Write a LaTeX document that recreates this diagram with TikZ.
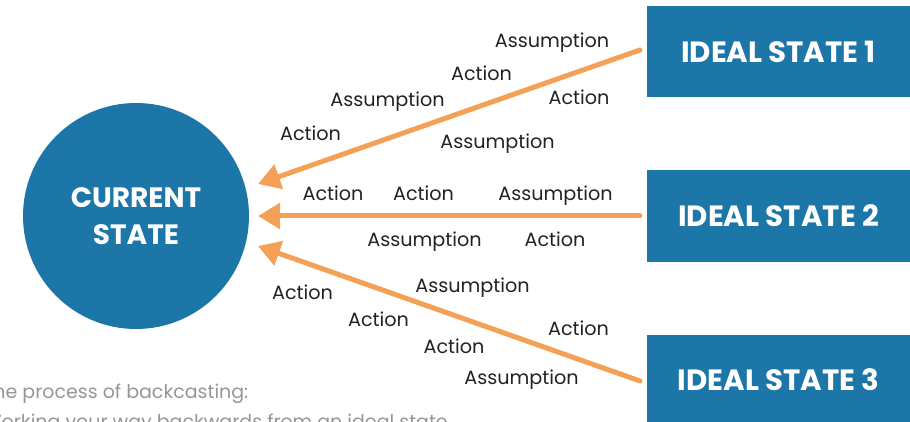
\documentclass[tikz,border=0pt]{standalone}
\usepackage{fontspec}
\setmainfont{Poppins}
\usetikzlibrary{arrows.meta}
\definecolor{stblue}{RGB}{28,118,168}
\definecolor{arrorange}{RGB}{244,160,86}
\definecolor{labelgray}{RGB}{34,34,34}
\definecolor{notegray}{RGB}{150,150,150}
\begin{document}
\begin{tikzpicture}[x=1pt,y=-1pt,
  statebox/.style={fill=stblue,minimum width=263pt,minimum height=91pt,inner sep=0pt,
    font=\fontsize{29.3}{31}\selectfont\bfseries,text=white},
  curstate/.style={circle,fill=stblue,minimum size=226pt,inner sep=0pt,
    font=\fontsize{28}{37}\selectfont\bfseries,text=white,align=center},
  link/.style={draw=arrorange,line width=5pt,line cap=round,
    -{Triangle[length=22pt,width=25pt]}},
  lbl/.style={anchor=base,inner sep=0pt,text=labelgray,font=\fontsize{19.2}{21}\selectfont},
  note/.style={anchor=base west,inner sep=0pt,text=notegray,font=\fontsize{19}{24}\selectfont}]
\useasboundingbox (0,0) rectangle (910,422);
\node[curstate] (cur) at (136,216) {CURRENT\\STATE};
\node[statebox] (i1) at (778.5,51.5) {IDEAL STATE 1};
\node[statebox] (i2) at (778.5,216) {IDEAL STATE 2};
\node[statebox] (i3) at (778.5,380) {IDEAL STATE 3};
\coordinate (s1) at (640,50);
\coordinate (s2) at (640,216);
\coordinate (s3) at (640,381);
\coordinate (t1) at (258,184);
\coordinate (t2) at (258,216);
\coordinate (t3) at (258,246);
\draw[link] (s1) -- (t1);
\draw[link] (s2) -- (t2);
\draw[link] (s3) -- (t3);
% labels arrow 1
\node[lbl] (a1) at (552,48) {Assumption};
\node[lbl] (a2) at (481.5,81) {Action};
\node[lbl] (a3) at (387.5,107) {Assumption};
\node[lbl] (a4) at (579,105) {Action};
\node[lbl] (a5) at (310.5,141) {Action};
\node[lbl] (a6) at (497.5,149) {Assumption};
% labels arrow 2
\node[lbl] (b1) at (333,201) {Action};
\node[lbl] (b2) at (423.5,201) {Action};
\node[lbl] (b3) at (555.5,201) {Assumption};
\node[lbl] (b4) at (424.5,246) {Assumption};
\node[lbl] (b5) at (555,246) {Action};
% labels arrow 3
\node[lbl] (c1) at (472.5,292) {Assumption};
\node[lbl] (c2) at (302.5,299) {Action};
\node[lbl] (c3) at (378.5,326) {Action};
\node[lbl] (c4) at (578.5,335) {Action};
\node[lbl] (c5) at (454,353) {Action};
\node[lbl] (c6) at (521.5,384) {Assumption};
% note
\node[note] (n1) at (-17,398) {The process of backcasting:};
\node[note] (n2) at (-17,428) {Working your way backwards from an ideal state};
\end{tikzpicture}
\end{document}
